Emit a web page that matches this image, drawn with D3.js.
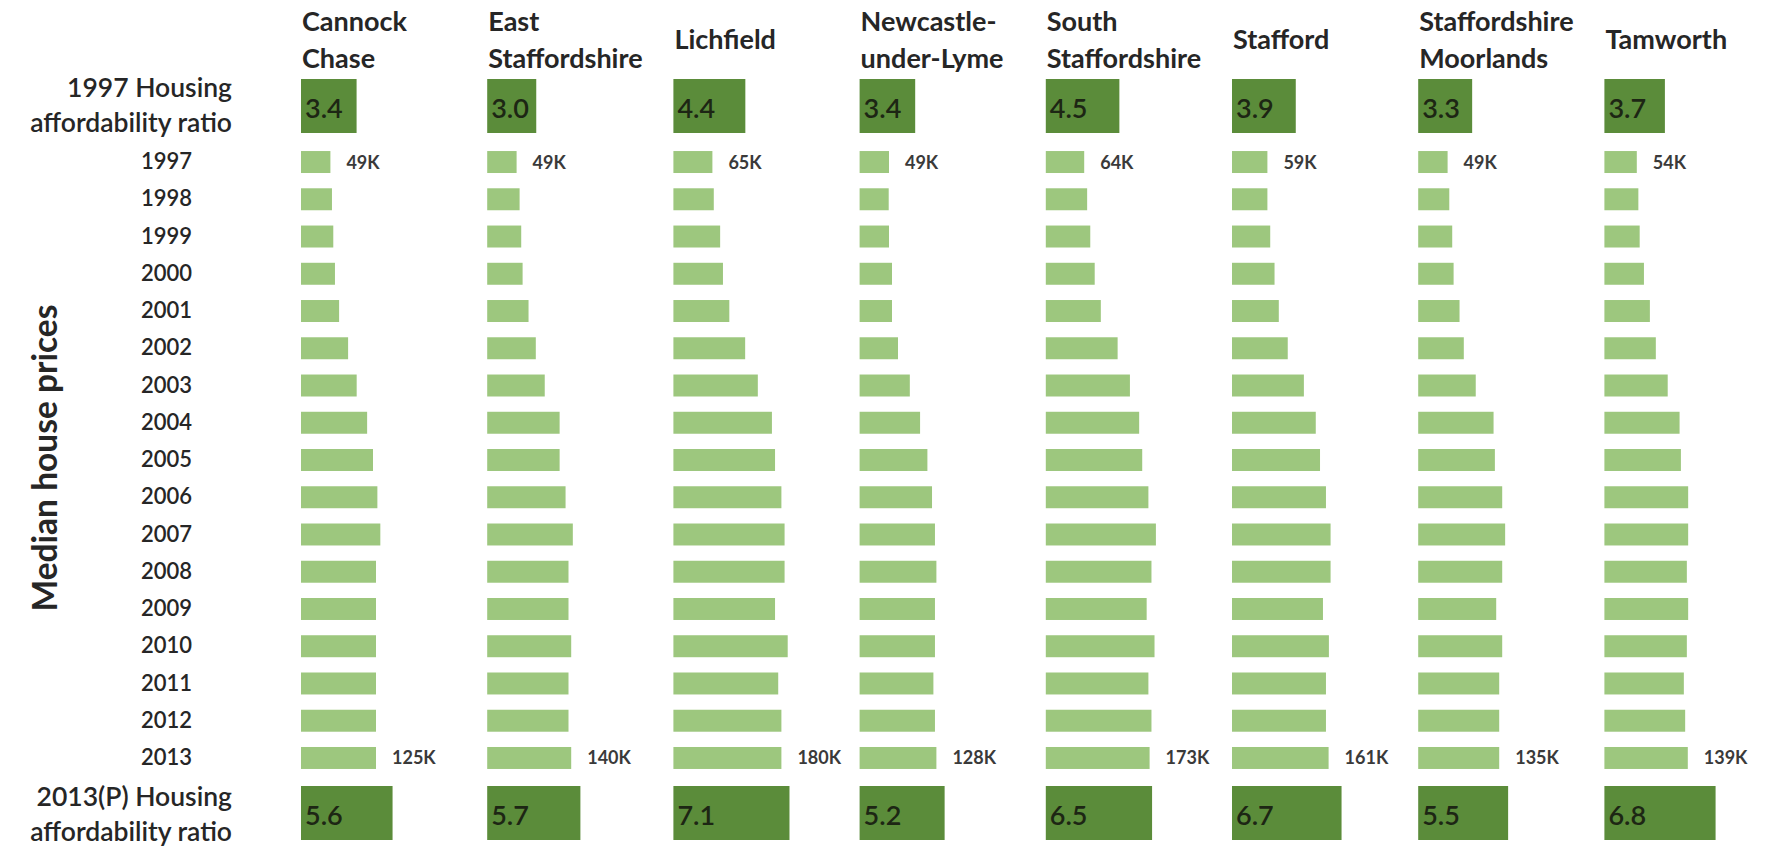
<!DOCTYPE html>
<html>
<head>
<meta charset="utf-8">
<script src="https://cdn.jsdelivr.net/npm/d3@7"></script>
<style>
  html, body { margin: 0; padding: 0; background: #ffffff; }
  svg { display: block; }
  text { font-family: Lato, "Open Sans", sans-serif; }
</style>
</head>
<body>
<svg id="chart" width="1769" height="848"></svg>
<script>
// Districts (panel order) and the header lines shown above each panel
const districts = ["Cannock Chase", "East Staffordshire", "Lichfield", "Newcastle-under-Lyme",
                   "South Staffordshire", "Stafford", "Staffordshire Moorlands", "Tamworth"];
const headerLines = [["Cannock", "Chase"], ["East", "Staffordshire"], ["Lichfield"],
                     ["Newcastle-", "under-Lyme"], ["South", "Staffordshire"], ["Stafford"],
                     ["Staffordshire", "Moorlands"], ["Tamworth"]];

const years = [1997, 1998, 1999, 2000, 2001, 2002, 2003, 2004, 2005,
               2006, 2007, 2008, 2009, 2010, 2011, 2012, 2013];

// Housing affordability ratios
const ratio1997 = [3.4, 3.0, 4.4, 3.4, 4.5, 3.9, 3.3, 3.7];
const ratio2013 = [5.6, 5.7, 7.1, 5.2, 6.5, 6.7, 5.5, 6.8];

// Median house prices, £ thousands, 1997..2013
const cannockChase        = [49, 51.6, 53.8, 56.6, 63.5, 78.5, 92.8, 110.2, 120, 127.3, 132.2, 125, 125, 125, 125, 125, 125];
const eastStaffordshire   = [49, 54, 56.7, 59, 68.9, 81, 95.9, 120.7, 120.7, 130.6, 142.7, 135.5, 135.5, 140, 135.5, 135.5, 140];
const lichfield           = [65, 67.3, 77.9, 82.6, 93.2, 119.6, 140.7, 164.2, 169.4, 180, 185.3, 185.3, 169.4, 190.5, 174.7, 180, 180];
const newcastleUnderLyme  = [49, 48.5, 49, 54, 54, 64, 83.7, 100.8, 113, 120.7, 125.6, 128, 125.6, 125.6, 123, 125.6, 128];
const southStaffordshire  = [64, 68.9, 74.1, 81.5, 91.7, 119.7, 140.2, 155.6, 160.7, 171, 183.5, 176.1, 168.1, 181.2, 171, 176.1, 173];
const stafford            = [59, 59, 63.7, 70.9, 78, 92.9, 119.8, 139.6, 146.7, 156.6, 164.3, 164.3, 151.6, 161.5, 156.6, 156.6, 161];
const staffsMoorlands     = [49, 51.8, 56.7, 59, 68.9, 76, 95.9, 125.6, 127.8, 140, 144.9, 140, 130, 140, 135, 135, 135];
const tamworth            = [54, 56.6, 58.8, 65.9, 75.8, 85.7, 105.5, 125.3, 127.5, 139.6, 139.6, 137.4, 139.6, 137.4, 132.4, 134.6, 139];

const prices = [cannockChase, eastStaffordshire, lichfield, newcastleUnderLyme,
                southStaffordshire, stafford, staffsMoorlands, tamworth];

// Years that carry a value label
const labelledYears = [1997, 2013];

const BAR = "#9dc77e", BOX = "#5b8c3a", INK = "#262626", LABEL = "#3a3a3a", BOX_INK = "#1d2614";

const svg = d3.select("#chart");

const panelX = d3.scalePoint().domain(districts).range([301, 1604.4]);
const yRow = d3.scaleBand().domain(years).range([143.4, 776.6]).paddingInner(0.41).paddingOuter(0.205);
const xPrice = d3.scaleLinear().domain([0, 200]).range([0, 120]);
const xRatio = d3.scaleLinear().domain([0, 8]).range([0, 130.8]);

const ratioRows = [
  { key: "1997", values: ratio1997, top: 79, height: 54, label: ["1997 Housing", "affordability ratio"], labelY: [97, 132] },
  { key: "2013", values: ratio2013, top: 786, height: 54, label: ["2013(P) Housing", "affordability ratio"], labelY: [806, 841] }
];

// Left-hand row titles
ratioRows.forEach(r => {
  svg.append("text")
    .attr("x", 232).attr("text-anchor", "end")
    .attr("font-size", 26.5).attr("font-weight", 600).attr("fill", INK)
    .selectAll("tspan").data(r.label).join("tspan")
    .attr("x", 232).attr("y", (d, i) => r.labelY[i]).text(d => d);
});

svg.append("text")
  .attr("transform", "translate(57,458) rotate(-90)")
  .attr("text-anchor", "middle")
  .attr("font-size", 33.5).attr("font-weight", 700).attr("fill", INK)
  .text("Median house prices");

// Year axis
const yAxis = d3.axisLeft(yRow).tickSize(0).tickPadding(0);
const gy = svg.append("g").attr("transform", "translate(192,0)").call(yAxis);
gy.select(".domain").remove();
gy.selectAll("text")
  .attr("font-family", "Lato, sans-serif").attr("font-size", 22).attr("font-weight", 600)
  .attr("fill", INK);

// One panel per district
districts.forEach((name, di) => {
  const g = svg.append("g").attr("transform", `translate(${panelX(name)},0)`);

  // header
  const lines = headerLines[di];
  const baseY = lines.length === 2 ? [31, 68] : [49];
  g.append("text")
    .attr("font-size", 27).attr("font-weight", 700).attr("fill", INK)
    .selectAll("tspan").data(lines).join("tspan")
    .attr("x", 1).attr("y", (d, i) => baseY[i]).text(d => d);

  // ratio boxes
  ratioRows.forEach(r => {
    const v = r.values[di];
    g.append("rect")
      .attr("x", 0).attr("y", r.top)
      .attr("width", xRatio(v)).attr("height", r.height)
      .attr("fill", BOX);
    g.append("text")
      .attr("x", 4).attr("y", r.top + r.height - 15)
      .attr("font-size", 27).attr("font-weight", 600).attr("fill", BOX_INK)
      .text(d3.format(".1f")(v));
  });

  // price bars
  const series = years.map((y, i) => ({ year: y, value: prices[di][i] }));
  g.selectAll("rect.bar").data(series).join("rect")
    .attr("class", "bar")
    .attr("x", 0).attr("y", d => yRow(d.year))
    .attr("width", d => xPrice(d.value)).attr("height", yRow.bandwidth())
    .attr("fill", BAR);

  g.selectAll("text.val").data(series.filter(d => labelledYears.includes(d.year))).join("text")
    .attr("class", "val")
    .attr("x", d => xPrice(d.value) + 16)
    .attr("y", d => yRow(d.year) + yRow.bandwidth() / 2)
    .attr("dy", "0.36em")
    .attr("font-size", 18).attr("font-weight", 700).attr("fill", LABEL)
    .text(d => Math.round(d.value) + "K");
});
</script>
</body>
</html>
